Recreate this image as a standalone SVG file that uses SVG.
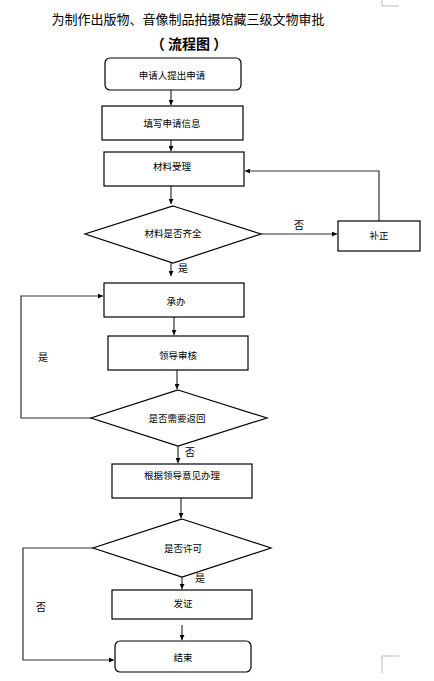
<svg xmlns="http://www.w3.org/2000/svg" width="434" height="681" viewBox="0 0 434 681">
<defs>
<marker id="ah" viewBox="0 0 10 10" refX="10" refY="5" markerWidth="5" markerHeight="5" orient="auto" markerUnits="userSpaceOnUse">
<path d="M0,0 L10,5 L0,10 z" fill="#000"/>
</marker>
<style>
.box{fill:#fff;stroke:#000;stroke-width:1.2}
.t{font-family:"Liberation Sans","Noto Sans CJK SC",sans-serif;font-size:9.5px;fill:#000;text-anchor:middle;dominant-baseline:central}
.lb{font-family:"Liberation Sans","Noto Sans CJK SC",sans-serif;font-size:10px;fill:#000;text-anchor:middle;dominant-baseline:central}
.c{fill:none;stroke:#333;stroke-width:1.2}
.mark{fill:none;stroke:#bbb;stroke-width:1}
</style>
</defs>
<rect width="434" height="681" fill="#fff"/>
<path class="mark" d="M382,0 V6 H399"/>
<path class="mark" d="M382,673 V656 H399"/>
<text x="188" y="18" font-family="'Noto Sans CJK SC',sans-serif" font-size="13" text-anchor="middle" dominant-baseline="central">为制作出版物、音像制品拍摄馆藏三级文物审批</text>
<text x="189" y="43" font-family="'Noto Sans CJK SC',sans-serif" font-size="14" font-weight="bold" text-anchor="middle" dominant-baseline="central" xml:space="preserve">（ 流程图 ）</text>

<g id="connectors">
<path class="c" d="M171,90 V105" marker-end="url(#ah)"/>
<path class="c" d="M171,140 V151" marker-end="url(#ah)"/>
<path class="c" d="M171,186 V204" marker-end="url(#ah)"/>
<path class="c" d="M261,234 H337" marker-end="url(#ah)"/>
<path class="c" d="M379,221 V171 H245" marker-end="url(#ah)"/>
<path class="c" d="M171,263 V276" marker-end="url(#ah)"/>
<path class="c" d="M174,317 V335" marker-end="url(#ah)"/>
<path class="c" d="M177,370 V389" marker-end="url(#ah)"/>
<path class="c" d="M91,418 H21 V296 H103" marker-end="url(#ah)"/>
<path class="c" d="M178,446 V463" marker-end="url(#ah)"/>
<path class="c" d="M181,498 V518" marker-end="url(#ah)"/>
<path class="c" d="M182,577 V589" marker-end="url(#ah)"/>
<path class="c" d="M182,625 V640" marker-end="url(#ah)"/>
<path class="c" d="M93,548 H23 V660 H114" marker-end="url(#ah)"/>
<text class="lb" x="299" y="225">否</text>
<text class="lb" x="183" y="268">是</text>
<text class="lb" x="43" y="357">是</text>
<text class="lb" x="190" y="452">否</text>
<text class="lb" x="200" y="578">是</text>
<text class="lb" x="41" y="607">否</text>
</g>

<g id="n1"><rect class="box" x="105" y="58" width="136" height="32" rx="5"/><text class="t" x="172" y="75">申请人提出申请</text></g>
<g id="n2"><rect class="box" x="102" y="106" width="141" height="34"/><text class="t" x="172" y="123">填写申请信息</text></g>
<g id="n3"><rect class="box" x="104" y="152" width="140" height="34"/><text class="t" x="172" y="166">材料受理</text></g>
<g id="n4"><polygon class="box" points="173,206 261,234 173,263 85,234"/><text class="t" x="173" y="233">材料是否齐全</text></g>
<g id="n5"><rect class="box" x="338" y="221" width="82" height="30"/><text class="t" x="379" y="235">补正</text></g>
<g id="n6"><rect class="box" x="104" y="283" width="140" height="34"/><text class="t" x="176" y="301">承办</text></g>
<g id="n7"><rect class="box" x="108" y="336" width="140" height="34"/><text class="t" x="178" y="355">领导审核</text></g>
<g id="n8"><polygon class="box" points="178,390 267,418 178,446 91,418"/><text class="t" x="177" y="418">是否需要返回</text></g>
<g id="n9"><rect class="box" x="112" y="464" width="140" height="34"/><text class="t" x="182" y="475">根据领导意见办理</text></g>
<g id="n10"><polygon class="box" points="182,519 271,548 182,577 93,548"/><text class="t" x="183" y="548">是否许可</text></g>
<g id="n11"><rect class="box" x="112" y="590" width="140" height="29"/><text class="t" x="183" y="603">发证</text></g>
<g id="n12"><rect class="box" x="115" y="641" width="136" height="31" rx="5"/><text class="t" x="183" y="657">结束</text></g>
</svg>
